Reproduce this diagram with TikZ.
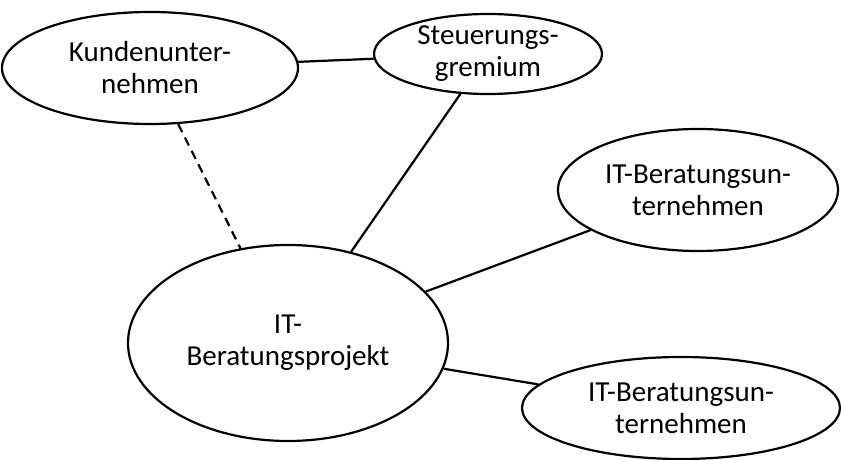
\documentclass[tikz,border=0pt]{standalone}
\usepackage{fontspec}
\setmainfont{Carlito}
\usetikzlibrary{shapes.geometric}
\tikzset{x=1pt, y=1pt, % One unit is one pixel of the original
        party/.style={ % Sets the properties for each party
            ellipse,
            draw,
            line width=2.2pt,
            inner sep=0pt,
            align=center,
            font=\fontsize{29}{32}\selectfont},
        link/.style={ % Sets the properties for each connection
            draw,
            line width=2.2pt},
        looselink/.style={ % Dashed connection
            link,
            dash pattern=on 9pt off 6pt}
        }
\begin{document}
\begin{tikzpicture}
    \useasboundingbox (0,0) rectangle (841,460);
    \node[party, minimum width=296pt, minimum height=112pt] (kunde) at (150,392) {Kundenunter-\\nehmen};
    \node[party, minimum width=228pt, minimum height=80pt] (gremium) at (488,406) {Steuerungs-\\gremium};
    \node[party, minimum width=280pt, minimum height=122pt] (berater1) at (698,270) {IT-Beratungsun-\\ternehmen};
    \node[party, minimum width=320pt, minimum height=196pt] (projekt) at (288,117) {IT-\\Beratungsprojekt};
    \node[party, minimum width=318pt, minimum height=102pt] (berater2) at (681,52) {IT-Beratungsun-\\ternehmen};

    \draw[link] (kunde) -- (gremium);
    \draw[looselink] (kunde) -- (projekt);
    \draw[link] (gremium) -- (projekt);
    \draw[link] (projekt) -- (berater1);
    \draw[link] (projekt) -- (berater2);
\end{tikzpicture}
\end{document}
